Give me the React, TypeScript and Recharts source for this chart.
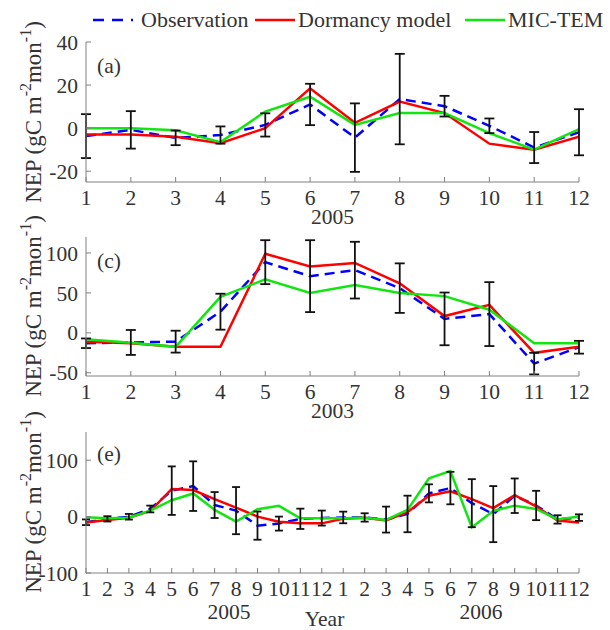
import { ComposedChart, Line, XAxis, YAxis, ErrorBar } from 'recharts';

const FONT = '"Liberation Serif", "Times New Roman", Times, serif';
const BLUE = '#0000ff';
const RED = '#ff0000';
const GREEN = '#11e611';
const AXIS = '#808080';
const TEXT = '#333333';

// panel (a) - 2005
const monthsA = [1, 2, 3, 4, 5, 6, 7, 8, 9, 10, 11, 12];
const obsA = [-3.7, -0.8, -4.5, -3.2, 1.5, 11, -4.4, 13.5, 10.2, 1.1, -9, -1.9];
const errA = [10.2, 8.7, 3.4, 4, 5.4, 9.6, 15.9, 21, 4.8, 3.4, 7.2, 10.7];
const dormA = [-3, -3, -4, -7, 0, 18.5, 2.5, 12.3, 7, -7.2, -10, -4];
const micA = [0, 0, -1, -6.5, 7.7, 14.6, 1.5, 7, 7, -2.3, -10, -0.5];
const yTicksA = [-20, 0, 20, 40];

// panel (c) - 2003
const monthsC = [1, 2, 3, 4, 5, 6, 7, 8, 9, 10, 11, 12];
const obsC = [-13, -12, -11, 26.5, 88.5, 71, 78.5, 56, 17.5, 23.5, -38.5, -18];
const errC = [6, 15.6, 13.7, 22.5, 27.5, 45, 35.5, 31, 33, 40, 13.5, 8];
const dormC = [-11, -13, -17.5, -17.5, 99, 83, 87.5, 62, 21, 35, -25, -17.5];
const micC = [-8, -12.5, -17.5, 45, 67, 50, 60, 50, 46, 29, -13, -13];
const yTicksC = [-50, 0, 50, 100];

// panel (e) - 2005 and 2006
const monthsE = [1, 2, 3, 4, 5, 6, 7, 8, 9, 10, 11, 12, 13, 14, 15, 16, 17, 18, 19, 20, 21, 22, 23, 24];
const monthLabelsE = ['1', '2', '3', '4', '5', '6', '7', '8', '9', '10', '11', '12',
  '1', '2', '3', '4', '5', '6', '7', '8', '9', '10', '11', '12'];
const obsE = [-10, -4, -0.3, 13.5, 46, 54, 20.5, 10.6, -16, -12.4, -3.9, -2.6,
  -1.5, -1.5, -5.3, 4.7, 41.2, 50.6, 23.8, 4.4, 37, 19.7, -5, -1.8];
const errE = [5, 4.7, 5, 6, 43, 44, 23, 41.8, 25, 12.4, 18, 13.3,
  10.3, 7.4, 23, 32.4, 16, 28.8, 42.6, 49.7, 30.6, 26, 7.4, 5.8];
const dormE = [-10.6, -6, -2, 10, 49, 47, 31, 16, 0, -9, -12, -12,
  -4, -2, -7, 8, 37, 45, 31, 15, 38, 18, -7, -10.6];
const micE = [-1, -3, -2, 10.6, 29, 41, 12, -9, 13, 19, -3, -3,
  -3, -2, -6, 12, 68, 80.6, -18.8, 10, 19.4, 13.5, -5, 0];
const yearPosE = [7.67, 19.43];
const yearLabelsE = ['2005', '2006'];
const yTicksE = [-100, 0, 100];

const rows = (xs: number[], obs: number[], err: number[], dorm: number[], mic: number[]) =>
  xs.map((x, i) => ({ x, obs: obs[i], err: err[i], dorm: dorm[i], mic: mic[i] }));

const tickFont = { fill: TEXT, fontSize: 21.5, fontFamily: FONT };

interface PanelProps {
  top: number;
  height: number;
  marginTop: number;
  marginBottom: number;
  data: any[];
  xDomain: [number, number];
  xTicks: number[];
  xFormat?: (v: number, i: number) => string;
  yDomain: [number, number];
  yTicks: number[];
  xLabel?: string;
  monthAxisHeight: number;
  years?: { ticks: number[]; labels: string[]; label: string };
  cap: number;
}

function Panel(p: PanelProps) {
  return (
    <div style={{ position: 'absolute', left: 0, top: p.top }}>
      <ComposedChart
        width={610}
        height={p.height}
        data={p.data}
        margin={{ top: p.marginTop, right: 31, bottom: p.marginBottom, left: 26 }}
      >
        <XAxis
          xAxisId="m"
          dataKey="x"
          type="number"
          domain={p.xDomain}
          ticks={p.xTicks}
          interval={0}
          allowDataOverflow
          tickFormatter={p.xFormat}
          height={p.monthAxisHeight}
          stroke={AXIS}
          tickSize={-5}
          tickMargin={13}
          tick={tickFont}
          label={p.xLabel ? { value: p.xLabel, position: 'insideBottom', offset: 0, fill: TEXT, fontSize: 21.5, fontFamily: FONT } : undefined}
        />
        {p.years && (
          <XAxis
            xAxisId="yr"
            dataKey="x"
            type="number"
            domain={p.xDomain}
            ticks={p.years.ticks}
            interval={0}
            allowDataOverflow
            tickFormatter={(v: number, i: number) => p.years!.labels[i]}
            height={31}
            axisLine={false}
            tickLine={false}
            tickMargin={3}
            tick={tickFont}
            label={{ value: p.years.label, position: 'insideBottom', offset: 0, dx: -8, fill: TEXT, fontSize: 21.5, fontFamily: FONT }}
          />
        )}
        <XAxis
          xAxisId="top"
          orientation="top"
          dataKey="x"
          type="number"
          domain={p.xDomain}
          ticks={p.xTicks}
          interval={0}
          allowDataOverflow
          height={0}
          tick={false}
          tickSize={-5}
          stroke={AXIS}
        />
        <YAxis
          yAxisId="l"
          type="number"
          domain={p.yDomain}
          ticks={p.yTicks}
          interval={0}
          allowDataOverflow
          width={60}
          stroke={AXIS}
          tickSize={-5}
          tickMargin={13}
          tick={tickFont}
        />
        <YAxis
          yAxisId="r"
          orientation="right"
          type="number"
          domain={p.yDomain}
          ticks={p.yTicks}
          interval={0}
          allowDataOverflow
          width={0}
          tick={false}
          tickSize={-5}
          stroke={AXIS}
        />
        <Line xAxisId="m" yAxisId="l" dataKey="obs" type="linear" stroke={BLUE} strokeWidth={2.5}
          strokeDasharray="10 6" dot={false} activeDot={false} isAnimationActive={false} />
        <Line xAxisId="m" yAxisId="l" dataKey="dorm" type="linear" stroke={RED} strokeWidth={2.5}
          dot={false} activeDot={false} isAnimationActive={false} />
        <Line xAxisId="m" yAxisId="l" dataKey="mic" type="linear" stroke={GREEN} strokeWidth={2.5}
          dot={false} activeDot={false} isAnimationActive={false} />
        {/* error bars of the observations, drawn on top */}
        <Line xAxisId="m" yAxisId="l" dataKey="obs" type="linear" stroke="none"
          dot={false} activeDot={false} isAnimationActive={false}>
          <ErrorBar dataKey="err" direction="y" width={p.cap} strokeWidth={1.8} stroke="#111" />
        </Line>
      </ComposedChart>
    </div>
  );
}

function YLabel({ cy }: { cy: number }) {
  return (
    <text
      x={41}
      y={cy}
      transform={`rotate(-90 41 ${cy})`}
      textAnchor="middle"
      fontFamily={FONT}
      fontSize={23}
      fill={TEXT}
    >
      NEP (gC m<tspan dy={-10} fontSize={16}>-2</tspan>
      <tspan dy={10}>mon</tspan>
      <tspan dy={-10} fontSize={16}>-1</tspan>
      <tspan dy={10}>)</tspan>
    </text>
  );
}

export default function App() {
  return (
    <div style={{ position: 'absolute', left: 0, top: 0, width: 610, height: 630, background: '#fff' }}>
      <Panel
        top={0}
        height={232}
        marginTop={42}
        marginBottom={8}
        data={rows(monthsA, obsA, errA, dormA, micA)}
        xDomain={[1, 12]}
        xTicks={monthsA}
        yDomain={[-25, 40]}
        yTicks={yTicksA}
        xLabel="2005"
        monthAxisHeight={42}
        cap={5}
      />
      <Panel
        top={200}
        height={222}
        marginTop={37}
        marginBottom={4}
        data={rows(monthsC, obsC, errC, dormC, micC)}
        xDomain={[1, 12]}
        xTicks={monthsC}
        yDomain={[-54, 120]}
        yTicks={yTicksC}
        xLabel="2003"
        monthAxisHeight={42}
        cap={5}
      />
      <Panel
        top={400}
        height={230}
        marginTop={32}
        marginBottom={4}
        data={rows(monthsE, obsE, errE, dormE, micE)}
        xDomain={[1, 24]}
        xTicks={monthsE}
        xFormat={(v: number, i: number) => monthLabelsE[i]}
        yDomain={[-100, 150]}
        yTicks={yTicksE}
        monthAxisHeight={22}
        years={{ ticks: yearPosE, labels: yearLabelsE, label: 'Year' }}
        cap={4}
      />

      <svg width={610} height={630} style={{ position: 'absolute', left: 0, top: 0, pointerEvents: 'none' }}>
        {/* legend */}
        <line x1={93} y1={20} x2={133} y2={20} stroke={BLUE} strokeWidth={2.5} strokeDasharray="11 8" />
        <text x={141} y={27} fontFamily={FONT} fontSize={22} fill={TEXT}>Observation</text>
        <line x1={255} y1={20} x2={295} y2={20} stroke={RED} strokeWidth={2.5} />
        <text x={298} y={27} fontFamily={FONT} fontSize={22} fill={TEXT}>Dormancy model</text>
        <line x1={465} y1={20} x2={505} y2={20} stroke={GREEN} strokeWidth={2.5} />
        <text x={508} y={27} fontFamily={FONT} fontSize={22} fill={TEXT}>MIC-TEM</text>

        {/* panel letters */}
        <text x={97} y={73} fontFamily={FONT} fontSize={21.5} fill={TEXT}>(a)</text>
        <text x={97} y={268} fontFamily={FONT} fontSize={21.5} fill={TEXT}>(c)</text>
        <text x={97} y={461} fontFamily={FONT} fontSize={21.5} fill={TEXT}>(e)</text>

        <YLabel cy={112} />
        <YLabel cy={306} />
        <YLabel cy={502} />
      </svg>
    </div>
  );
}
